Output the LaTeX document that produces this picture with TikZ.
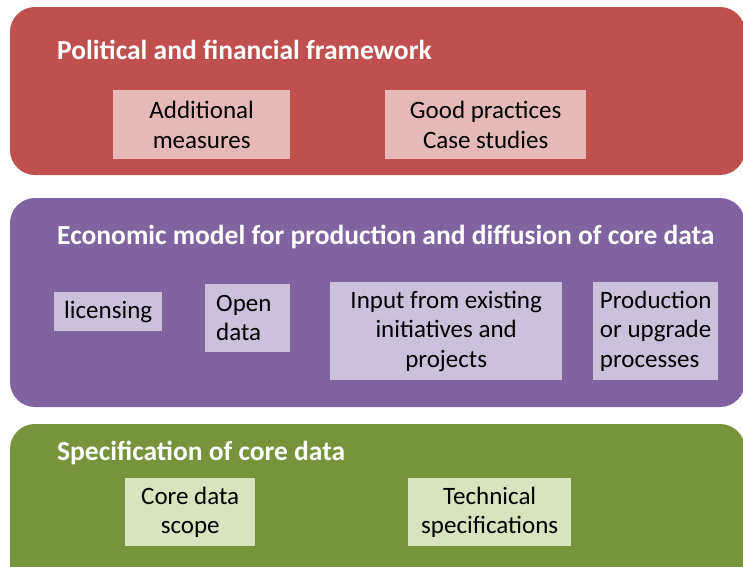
\documentclass[tikz,border=0pt]{standalone}
\usepackage{fontspec}
\setmainfont{Carlito}
\usepackage{xcolor}
\hyphenpenalty=10000

\definecolor{bandred}{HTML}{C0504D}
\definecolor{bandpurple}{HTML}{8064A2}
\definecolor{bandgreen}{HTML}{77933C}
\definecolor{boxred}{HTML}{E6B9B8}
\definecolor{boxpurple}{HTML}{CCC1DA}
\definecolor{boxgreen}{HTML}{D7E4BD}

\tikzset{
    band/.style={rounded corners=25pt},
    bandtitle/.style={anchor=west, text=white, font=\fontsize{27.5}{30}\selectfont\bfseries, inner sep=0pt},
    item/.style={anchor=north west, inner sep=0pt, font=\fontsize{25}{29.5}\selectfont, text=black},
}

\begin{document}
\begin{tikzpicture}[x=1pt,y=-1pt]
    \useasboundingbox (0,0) rectangle (743,566);
    \clip (0,0) rectangle (743,566);

    % Political and financial framework
    \fill[bandred, band] (10,7) rectangle (745,175);
    \node[bandtitle] (poltitle) at (57,50) {Political and financial framework};
    \node[item, fill=boxred, minimum width=177pt, minimum height=69pt, align=center] (addmeas) at (113,90) {Additional\\measures};
    \node[item, fill=boxred, minimum width=201pt, minimum height=69pt, align=center] (goodprac) at (385,90) {Good practices\\Case studies};

    % Economic model
    \fill[bandpurple, band] (10,198) rectangle (745,407);
    \node[bandtitle] (ecotitle) at (57,237) {Economic model for production and diffusion of core data};
    \node[item, fill=boxpurple, minimum width=108pt, minimum height=39pt, align=center] (licensing) at (54,292) {licensing};
    \node[item, fill=boxpurple, minimum height=68pt, inner xsep=11pt, text width=63pt, align=left] (opendata) at (205,284) {Open\\data};
    \node[item, fill=boxpurple, minimum width=232pt, minimum height=98pt, align=center] (input) at (330,282) {Input from existing\\initiatives and\\projects};
    \node[item, fill=boxpurple, minimum width=125pt, minimum height=98pt, inner xsep=4pt, align=left] (production) at (593,282) {Production\\or upgrade\\processes};

    % Specification of core data
    \fill[bandgreen, band] (10,424) rectangle (745,590);
    \node[bandtitle] (spectitle) at (57,453) {Specification of core data};
    \node[item, fill=boxgreen, minimum width=130pt, minimum height=68pt, align=center] (scope) at (125,478) {Core data\\scope};
    \node[item, fill=boxgreen, minimum width=163pt, minimum height=68pt, align=center] (techspec) at (408,478) {Technical\\specifications};
\end{tikzpicture}
\end{document}
